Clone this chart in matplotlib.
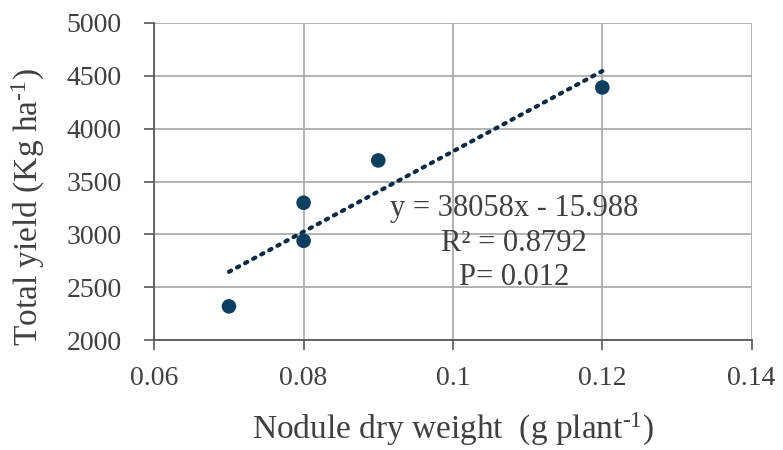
import numpy as np
import matplotlib
matplotlib.use("Agg")
import matplotlib.pyplot as plt

plt.rcParams['font.family'] = ['Liberation Serif', 'DejaVu Serif']
plt.rcParams['mathtext.fontset'] = 'custom'
plt.rcParams['mathtext.rm'] = 'Liberation Serif'
plt.rcParams['mathtext.it'] = 'Liberation Serif:italic'

nodule_weight = [0.07, 0.08, 0.08, 0.09, 0.12]
total_yield = [2320, 3300, 2940, 3700, 4390]
x_ticks = [0.06, 0.08, 0.1, 0.12, 0.14]
x_tick_labels = ['0.06', '0.08', '0.1', '0.12', '0.14']
y_ticks = [2000, 2500, 3000, 3500, 4000, 4500, 5000]
eq_text = "y = 38058x - 15.988\nR\u00b2 = 0.8792\nP= 0.012"

fig = plt.figure(figsize=(7.83, 4.5), dpi=100)
ax = fig.add_axes([0.197, 0.244, 0.763, 0.705])

ax.set_xlim(0.06, 0.14)
ax.set_ylim(2000, 5000)
ax.set_xticks(x_ticks)
ax.set_xticklabels(x_tick_labels)
ax.set_yticks(y_ticks)

ax.grid(True, color='#a6a6a6', linewidth=1.2)
ax.set_axisbelow(True)
for s in ['top', 'right']:
    ax.spines[s].set_visible(False)
for s in ['left', 'bottom']:
    ax.spines[s].set_color('#595959')
    ax.spines[s].set_linewidth(1.3)

ax.tick_params(axis='both', direction='out', length=7.5, width=1.2, color='#595959',
               labelsize=20, labelcolor='#404040')
ax.tick_params(axis='x', pad=11)
ax.tick_params(axis='y', pad=16)

xs = np.array(nodule_weight)
ys = np.array(total_yield)
slope, intercept = np.polyfit(xs, ys, 1)
xl = np.array([xs.min(), xs.max()])
ax.plot(xl, slope * xl + intercept, linestyle=(0, (0.6, 1.6)), color='#0d2a44',
        linewidth=3, dash_capstyle='round', zorder=3)

ax.scatter(nodule_weight, total_yield, s=110, color='#0e3f5e', zorder=4, edgecolors='none')

ax.text(0.1082, 2918, eq_text, ha='center', va='center', fontsize=22,
        color='#404040', linespacing=1.26, zorder=5)

ax.set_xlabel('Nodule dry weight  (g plant$^{\\mathregular{\u20101}}$)', fontsize=24,
              color='#404040')
ax.set_ylabel('Total yield (Kg ha$^{\\mathregular{\u20101}}$)', fontsize=24,
              color='#404040')
ax.xaxis.label.set_va('center')
ax.yaxis.label.set_va('center')
ax.xaxis.set_label_coords(0.5, -0.282)
ax.yaxis.set_label_coords(-0.211, 0.42)

fig.savefig('out.png', dpi=100)
